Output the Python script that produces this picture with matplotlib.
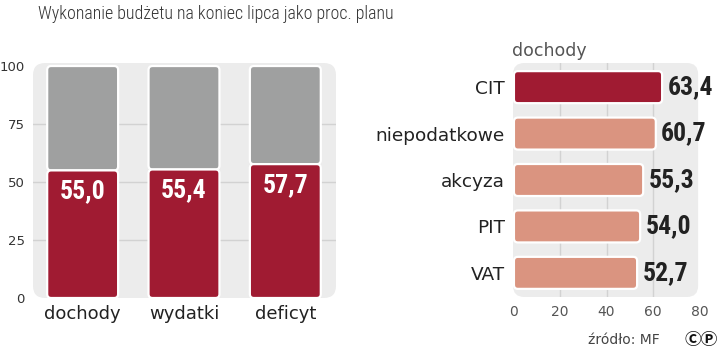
import matplotlib
matplotlib.use("Agg")
import matplotlib.pyplot as plt
from matplotlib.patches import FancyBboxPatch

# data
title = "Wykonanie budżetu na koniec lipca jako proc. planu"
left_cats = ["dochody", "wydatki", "deficyt"]
left_vals = [55.0, 55.4, 57.7]
left_labels = ["55,0", "55,4", "57,7"]
left_yticks = [0, 25, 50, 75, 100]

right_cats = ["CIT", "niepodatkowe", "akcyza", "PIT", "VAT"]
right_vals = [63.4, 60.7, 55.3, 54.0, 52.7]
right_labels = ["63,4", "60,7", "55,3", "54,0", "52,7"]
right_xticks = [0, 20, 40, 60, 80]

RED = "#a01b32"
GRAY = "#9fa0a0"
SALMON = "#da9480"
BG = "#ececec"
GRID = "#d2d2d2"
BOLDNUM = ["Roboto Condensed", "DejaVu Sans"]
LIGHTC = ["Roboto Condensed", "DejaVu Sans"]

W, H = 720, 349
fig = plt.figure(figsize=(W / 100, H / 100), dpi=100)


def px_axes(x0, y0, x1, y1):
    return fig.add_axes([x0 / W, 1 - y1 / H, (x1 - x0) / W, (y1 - y0) / H])


def rounded(ax, bars, r_px):
    # swap plain bars for rounded ones with the same geometry
    bb = ax.transData.transform([(0, 0), (1, 1)])
    sx, sy = bb[1, 0] - bb[0, 0], bb[1, 1] - bb[0, 1]
    for b in bars:
        x, y, w, h = b.get_x(), b.get_y(), b.get_width(), b.get_height()
        p = FancyBboxPatch((x, y), w, h,
                           boxstyle=f"round,pad=0,rounding_size={r_px / sx}",
                           mutation_aspect=abs(sx / sy),
                           fc=b.get_facecolor(), ec="white", lw=1.6, zorder=3)
        ax.add_patch(p)
        b.remove()


# ---- left panel
ax = px_axes(33, 63, 336, 298)
ax.set_xlim(-0.49, 2.5)
ax.set_ylim(0, 101.3)
ax.patch.set_visible(False)
ax.add_patch(FancyBboxPatch((0, 0), 1, 1, transform=ax.transAxes,
                            boxstyle="round,pad=0,rounding_size=0.04",
                            mutation_aspect=W * 0.42 / (H * 0.67),
                            fc=BG, ec="none", zorder=0))
for v in [25, 50, 75]:
    ax.axhline(v, color=GRID, lw=1, zorder=1)

xs = range(len(left_cats))
g = ax.bar(xs, [100 - v for v in left_vals], bottom=left_vals, width=0.70, color=GRAY)
r = ax.bar(xs, left_vals, width=0.70, color=RED)
rounded(ax, list(g) + list(r), 4)
for x, v, lab in zip(xs, left_vals, left_labels):
    ax.text(x, v - 9, lab, ha="center", va="center", color="white",
            fontsize=18.5, fontweight="bold", family=BOLDNUM, zorder=5)

ax.set_yticks(left_yticks)
ax.set_yticklabels([str(t) for t in left_yticks])
ax.set_xticks(list(xs))
ax.set_xticklabels(left_cats)
ax.tick_params(axis="y", length=0, pad=6, labelsize=9.5, labelcolor="#333333")
ax.tick_params(axis="x", length=0, pad=5, labelsize=13, labelcolor="#222222")
for s in ax.spines.values():
    s.set_visible(False)

# ---- right panel
ax2 = px_axes(513, 63, 700, 297)
ax2.set_xlim(0, 80)
ax2.set_ylim(len(right_cats) - 0.48, -0.52)
ax2.patch.set_visible(False)
ax2.add_patch(FancyBboxPatch((0, 0), 0.99, 1, transform=ax2.transAxes,
                             boxstyle="round,pad=0,rounding_size=0.06",
                             mutation_aspect=W * 0.26 / (H * 0.67),
                             fc=BG, ec="none", zorder=0))
for v in [20, 40, 60]:
    ax2.axvline(v, color=GRID, lw=1, zorder=1)

ys = range(len(right_cats))
cols = [RED] + [SALMON] * (len(right_cats) - 1)
hb = ax2.barh(ys, right_vals, height=0.69, color=cols, left=0.4)
rounded(ax2, hb, 4)
for y, v, lab in zip(ys, right_vals, right_labels):
    ax2.text(v + 2.6, y, lab, ha="left", va="center", color="#222222",
             fontsize=18.5, fontweight="bold", family=BOLDNUM, zorder=5, clip_on=False)

ax2.set_yticks(list(ys))
ax2.set_yticklabels(right_cats)
ax2.set_xticks(right_xticks)
ax2.set_xticklabels([str(t) for t in right_xticks])
ax2.tick_params(axis="y", length=0, pad=6, labelsize=13.3, labelcolor="#222222")
ax2.tick_params(axis="x", length=0, pad=6, labelsize=10, labelcolor="#555555")
for s in ax2.spines.values():
    s.set_visible(False)

# ---- texts
fig.text(38 / W, 1 - 14 / H, title, ha="left", va="center", fontsize=12.9,
         color="#333333", family=LIGHTC, fontweight="light")
fig.text(512 / W, 1 - 51 / H, "dochody", ha="left", va="center", fontsize=12.5,
         color="#555555")
fig.text(660 / W, 1 - 340 / H, "źródło: MF", ha="right", va="center", fontsize=10,
         color="#444444")
fig.text(718 / W, 1 - 340 / H, "ⒸⓅ", ha="right", va="center", fontsize=12,
         fontweight="bold", color="#111111", family=["Noto Sans CJK SC", "DejaVu Sans"])

fig.savefig("out.png", dpi=100)
